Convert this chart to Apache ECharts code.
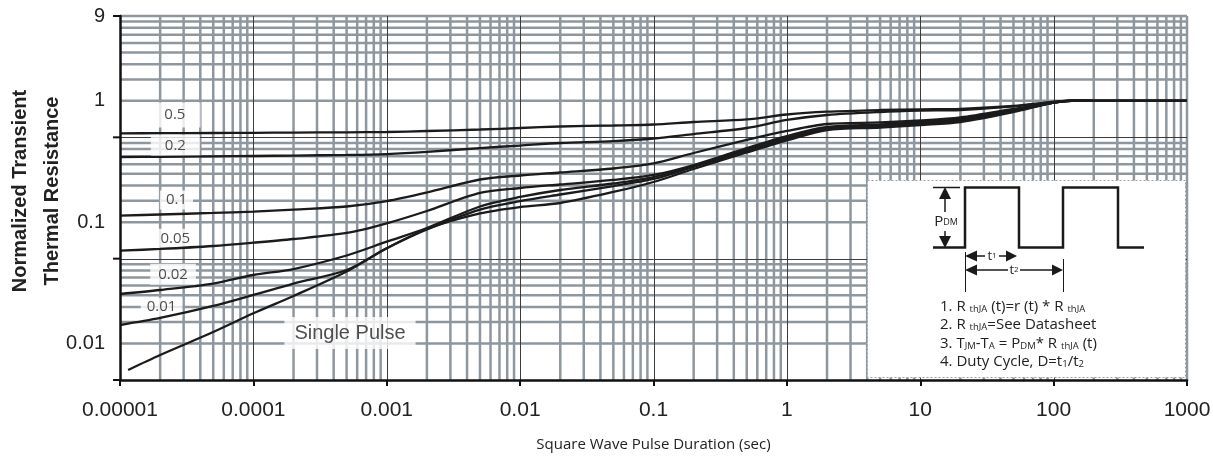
<!DOCTYPE html>
<html><head><meta charset="utf-8">
<script src="https://cdn.jsdelivr.net/npm/echarts@6/dist/echarts.min.js"></script>
<style>html,body{margin:0;padding:0;background:#fff}#c{width:1213px;height:456px}</style>
</head><body><div id="c"></div>
<script>
// ---- data ----
const xTickValues = [1e-5, 1e-4, 1e-3, 1e-2, 1e-1, 1, 10, 100, 1000];
const xTickLabels = ['0.00001', '0.0001', '0.001', '0.01', '0.1', '1', '10', '100', '1000'];
const yTickValues = [0.01, 0.1, 1, 5];
const yTickLabels = ['0.01', '0.1', '1', '9'];

const pulseTimes = [1e-5, 2e-5, 5e-5, 1e-4, 2e-4, 5e-4, 1e-3, 2e-3, 5e-3, 0.01, 0.02, 0.05, 0.1, 0.2, 0.5, 1, 2, 5, 10, 20, 50, 100, 150, 200, 500, 1000];
const duty05 = [0.540, 0.541, 0.543, 0.545, 0.547, 0.550, 0.553, 0.564, 0.580, 0.597, 0.614, 0.626, 0.638, 0.669, 0.702, 0.771, 0.813, 0.840, 0.851, 0.859, 0.906, 0.980, 1.010, 1.0, 1.0, 1.0];
const duty02 = [0.344, 0.345, 0.348, 0.351, 0.354, 0.358, 0.364, 0.379, 0.408, 0.428, 0.449, 0.466, 0.489, 0.532, 0.597, 0.695, 0.764, 0.809, 0.829, 0.840, 0.898, 0.978, 1.006, 1.0, 1.0, 1.0];
const duty01 = [0.113, 0.1156, 0.119, 0.122, 0.127, 0.1346, 0.149, 0.1755, 0.2246, 0.2424, 0.2565, 0.2767, 0.3044, 0.3714, 0.4755, 0.564, 0.644, 0.663, 0.688, 0.729, 0.856, 0.968, 1.005, 1.0, 1.0, 1.0];
const duty005 = [0.0582, 0.0601, 0.0636, 0.0677, 0.0726, 0.0814, 0.0978, 0.1236, 0.1739, 0.1912, 0.2043, 0.2226, 0.2447, 0.2958, 0.408, 0.5129, 0.6083, 0.638, 0.669, 0.708, 0.840, 0.968, 1.005, 1.0, 1.0, 1.0];
const duty002 = [0.02557, 0.02759, 0.0312, 0.03667, 0.04109, 0.0531, 0.069, 0.0895, 0.1346, 0.1612, 0.184, 0.2082, 0.2355, 0.2903, 0.397, 0.4984, 0.597, 0.626, 0.6565, 0.695, 0.824, 0.968, 1.005, 1.0, 1.0, 1.0];
const duty001 = [0.0142, 0.01622, 0.02037, 0.0251, 0.0312, 0.04032, 0.0609, 0.087, 0.127, 0.149, 0.169, 0.1985, 0.2268, 0.2848, 0.3858, 0.4844, 0.5857, 0.614, 0.644, 0.682, 0.8166, 0.968, 1.005, 1.0, 1.0, 1.0];
const singlePulseTimes = [1.15e-5, 2e-5, 5e-5, 1e-4, 2e-4, 5e-4, 1e-3, 2e-3, 5e-3, 0.01, 0.02, 0.05, 0.1, 0.2, 0.5, 1, 2, 5, 10, 20, 50, 100, 150, 200, 500, 1000];
const singlePulse = [0.00605, 0.00804, 0.01243, 0.01773, 0.02462, 0.03918, 0.0609, 0.0878, 0.1179, 0.1333, 0.1438, 0.1772, 0.2142, 0.2742, 0.375, 0.471, 0.5747, 0.6026, 0.632, 0.669, 0.809, 0.968, 1.005, 1.0, 1.0, 1.0];

const curveNames = ['0.5', '0.2', '0.1', '0.05', '0.02', '0.01', 'Single Pulse'];

// ---- annotation anchors (data space) ----
const labelAnchors = [
  [2.58e-5, 0.764], [2.6e-5, 0.424], [2.65e-5, 0.152], [2.6e-5, 0.0736],
  [2.5e-5, 0.0372], [2.05e-5, 0.0199], [5.3e-4, 0.0122]
];

// ---- grid lines (log grid: 1..9 per decade) ----
const gridMinor = [], gridMajor = [];
for (let e = -5; e <= 2; e++) {
  for (let k = 1; k <= 9; k++) {
    const v = k * Math.pow(10, e);
    if (e === -5 && k === 1) continue;
    (k === 1 ? gridMajor : gridMinor).push([v, 1, 0, k === 1 ? 2 : 1, 0]);
  }
}
gridMinor.push([1000, 1, 0, 1, 0]);
for (let e = 0; e <= 2; e++) {
  for (let k = 1; k <= 9; k++) {
    const v = 0.005 * k * Math.pow(10, e);
    if (k === 1) gridMajor.push([1, v, 1, e === 0 ? 0 : 2, 1]);
    else gridMinor.push([1, v, 1, 1, 0]);
  }
}
gridMinor.push([1, 5, 1, 1, 0]);
gridMajor.push([1, 5, 1, 0, 1]);
const gridData = gridMinor.concat(gridMajor);

function renderGrid(params, api) {
  const cs = params.coordSys;
  const p = api.coord([api.value(0), api.value(1)]);
  const orient = api.value(2), style = api.value(3), tick = api.value(4);
  const children = [];
  if (style) {
    const ls = style === 2 ? { stroke: '#3c3c3c', lineWidth: 1 } : { stroke: '#8e979e', lineWidth: 2.5 };
    if (orient === 0) {
      const x = style === 2 ? Math.round(p[0]) + 0.5 : p[0];
      children.push({ type: 'line', shape: { x1: x, y1: cs.y, x2: x, y2: cs.y + cs.height }, style: ls });
    } else {
      const y = style === 2 ? Math.round(p[1]) + 0.5 : p[1];
      children.push({ type: 'line', shape: { x1: cs.x, y1: y, x2: cs.x + cs.width, y2: y }, style: ls });
    }
  }
  if (tick) {
    children.push({ type: 'line', shape: { x1: cs.x - 7, y1: p[1], x2: cs.x, y2: p[1] }, style: { stroke: '#111', lineWidth: 2 } });
  }
  return { type: 'group', children: children };
}

function logIndex(values, v) {
  for (let i = 0; i < values.length; i++) {
    if (Math.abs(Math.log10(v) - Math.log10(values[i])) < 1e-6) return i;
  }
  return -1;
}

const curveData = [duty05, duty02, duty01, duty005, duty002, duty001];
const lineSeries = curveData.map((arr, i) => ({
  type: 'line', name: curveNames[i], z: 3, symbol: 'none', smooth: 0.3,
  lineStyle: { color: '#1b1b1b', width: 2.3 },
  data: pulseTimes.map((t, j) => [t, arr[j]])
}));
lineSeries.push({
  type: 'line', name: curveNames[6], z: 3, symbol: 'none', smooth: 0.3,
  lineStyle: { color: '#1b1b1b', width: 2.3 },
  data: singlePulseTimes.map((t, j) => [t, singlePulse[j]])
});

const labelPads = [[5, 15], [4, 14], [2, 6], [2, 6], [3, 8], [2, 6], [6, 10]];
const labelSeries = {
  type: 'scatter', z: 2, symbolSize: 0, silent: true,
  data: curveNames.map((n, i) => ({
    value: labelAnchors[i], name: n,
    label: {
      show: true, position: [0, 0], align: 'center', verticalAlign: 'middle',
      formatter: '{b}', backgroundColor: '#fff', padding: labelPads[i],
      fontFamily: i === 6 ? 'Liberation Sans' : 'Open Sans',
      fontSize: i === 6 ? 20 : 15, color: '#222'
    }
  }))
};

const ink = '#1a1a1a';
const noteRich = {
  n: { fontFamily: 'Open Sans', fontSize: 15, fill: '#222', color: '#222' },
  s: { fontFamily: 'Open Sans', fontSize: 9.5, fill: '#222', color: '#222', verticalAlign: 'bottom' }
};
function noteText(y, text) {
  return { type: 'text', z: 11, style: { x: 940, y: y, text: text, rich: noteRich, textVerticalAlign: 'middle', verticalAlign: 'middle' } };
}

const graphic = [
  { type: 'rect', z: 10, shape: { x: 867.5, y: 180.5, width: 318, height: 197 }, style: { fill: '#fff', stroke: '#9aa2a8', lineWidth: 1, lineDash: [2, 2] } },
  { type: 'polyline', z: 11, shape: { points: [[933, 247.5], [965, 247.5], [965, 187.5], [1019, 187.5], [1019, 247.5], [1063, 247.5], [1063, 187.5], [1118, 187.5], [1118, 247.5], [1144, 247.5]] }, style: { stroke: ink, lineWidth: 2.5, fill: null } },
  { type: 'line', z: 11, shape: { x1: 933, y1: 187.5, x2: 960, y2: 187.5 }, style: { stroke: ink, lineWidth: 1.5 } },
  { type: 'line', z: 11, shape: { x1: 945, y1: 198, x2: 945, y2: 212 }, style: { stroke: ink, lineWidth: 1.5 } },
  { type: 'polygon', z: 11, shape: { points: [[945, 187], [939, 199], [951, 199]] }, style: { fill: ink } },
  { type: 'line', z: 11, shape: { x1: 945, y1: 231, x2: 945, y2: 237 }, style: { stroke: ink, lineWidth: 1.5 } },
  { type: 'polygon', z: 11, shape: { points: [[945, 248], [939, 236], [951, 236]] }, style: { fill: ink } },
  { type: 'text', z: 11, style: { x: 946, y: 222, text: '{a|P}{b|DM}', align: 'center', verticalAlign: 'middle', textAlign: 'center', textVerticalAlign: 'middle',
      rich: { a: { fontFamily: 'Open Sans', fontSize: 15, fill: '#222', color: '#222' }, b: { fontFamily: 'Open Sans', fontSize: 9, fill: '#222', color: '#222' } } } },
  // t1
  { type: 'polygon', z: 11, shape: { points: [[965, 256], [977, 250.5], [977, 261.5]] }, style: { fill: ink } },
  { type: 'line', z: 11, shape: { x1: 977, y1: 256, x2: 985, y2: 256 }, style: { stroke: ink, lineWidth: 1.5 } },
  { type: 'text', z: 11, style: { x: 992, y: 256, text: '{a|t}{b|1}', align: 'center', verticalAlign: 'middle', textAlign: 'center', textVerticalAlign: 'middle',
      rich: { a: { fontFamily: 'Open Sans', fontSize: 13, fill: '#222', color: '#222' }, b: { fontFamily: 'Open Sans', fontSize: 8, fill: '#222', color: '#222' } } } },
  { type: 'line', z: 11, shape: { x1: 999, y1: 256, x2: 1006, y2: 256 }, style: { stroke: ink, lineWidth: 1.5 } },
  { type: 'polygon', z: 11, shape: { points: [[1017, 256], [1006, 250.5], [1006, 261.5]] }, style: { fill: ink } },
  // t2
  { type: 'polygon', z: 11, shape: { points: [[965, 270], [977, 264.5], [977, 275.5]] }, style: { fill: ink } },
  { type: 'line', z: 11, shape: { x1: 977, y1: 270, x2: 1008, y2: 270 }, style: { stroke: ink, lineWidth: 1.5 } },
  { type: 'text', z: 11, style: { x: 1014, y: 270, text: '{a|t}{b|2}', align: 'center', verticalAlign: 'middle', textAlign: 'center', textVerticalAlign: 'middle',
      rich: { a: { fontFamily: 'Open Sans', fontSize: 13, fill: '#222', color: '#222' }, b: { fontFamily: 'Open Sans', fontSize: 8, fill: '#222', color: '#222' } } } },
  { type: 'line', z: 11, shape: { x1: 1020, y1: 270, x2: 1052, y2: 270 }, style: { stroke: ink, lineWidth: 1.5 } },
  { type: 'polygon', z: 11, shape: { points: [[1063, 270], [1052, 264.5], [1052, 275.5]] }, style: { fill: ink } },
  { type: 'line', z: 11, shape: { x1: 965.5, y1: 252, x2: 965.5, y2: 292 }, style: { stroke: ink, lineWidth: 1 } },
  { type: 'line', z: 11, shape: { x1: 1063.5, y1: 259, x2: 1063.5, y2: 292 }, style: { stroke: ink, lineWidth: 1 } },
  noteText(307, '{n|1. R }{s|thJA}{n| (t)=r (t) * R }{s|thJA}'),
  noteText(325, '{n|2. R }{s|thJA}{n|=See Datasheet}'),
  noteText(343.5, '{n|3. T}{s|JM}{n|-T}{s|A}{n| = P}{s|DM}{n|* R }{s|thJA}{n| (t)}'),
  noteText(362, '{n|4. Duty Cycle, D=t}{s|1}{n|/t}{s|2}')
];

const option = {
  animation: false,
  backgroundColor: '#fff',
  grid: { left: 120, right: 26, top: 16, bottom: 76, containLabel: false, outerBoundsMode: 'none' },
  xAxis: {
    type: 'log', logBase: 10, min: 1e-5, max: 1000, z: 5,
    axisLine: { show: true, lineStyle: { color: '#111', width: 2.5 } },
    axisTick: { show: true, length: 6, lineStyle: { color: '#111', width: 2 } },
    axisLabel: { interval: 0, fontFamily: 'Liberation Sans', fontSize: 21, color: '#222', margin: 20,
      showMinLabel: true, showMaxLabel: true,
      formatter: v => { const i = logIndex(xTickValues, v); return i >= 0 ? xTickLabels[i] : ''; } },
    splitLine: { show: false },
    minorSplitLine: { show: false },
    name: 'Square Wave Pulse Duration (sec)', nameLocation: 'middle', nameGap: 57, nameMoveOverlap: false,
    nameTextStyle: { fontFamily: 'Open Sans', fontSize: 15, color: '#222' }
  },
  yAxis: {
    type: 'log', logBase: 10, min: 0.005, max: 5, z: 5,
    axisLine: { show: true, lineStyle: { color: '#111', width: 2.5 } },
    axisTick: { show: false },
    axisLabel: { fontFamily: 'Liberation Sans', fontSize: 20, color: '#222', margin: 15,
      showMinLabel: true, showMaxLabel: true,
      formatter: v => { const i = logIndex(yTickValues, v); return i >= 0 ? yTickLabels[i] : ''; } },
    splitLine: { show: false },
    name: 'Normalized Transient\nThermal Resistance', nameLocation: 'middle', nameGap: 52, nameRotate: 90, nameMoveOverlap: false,
    nameTextStyle: { fontFamily: 'Liberation Sans', fontWeight: 'bold', fontSize: 20, lineHeight: 32, color: '#222', padding: [0, 0, 0, 14] }
  },
  graphic: graphic,
  series: [
    { type: 'custom', z: 1, silent: true, clip: false, renderItem: renderGrid,
      dimensions: ['x', 'y', 'orient', 'style', 'tick'], encode: { x: 0, y: 1 }, data: gridData }
  ].concat([labelSeries]).concat(lineSeries)
};

const chart = echarts.init(document.getElementById('c'));
chart.setOption(option);
</script>
</body></html>
